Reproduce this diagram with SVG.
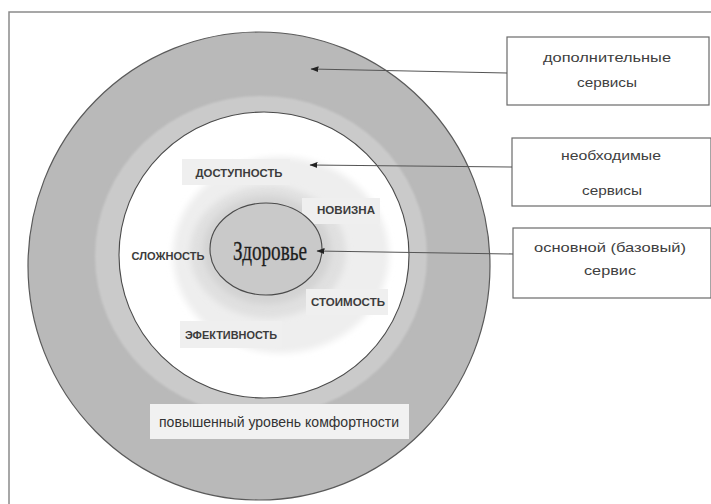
<svg xmlns="http://www.w3.org/2000/svg" width="711" height="504" viewBox="0 0 711 504">
  <style>
    .frame { fill: none; stroke: #8a8a8a; stroke-width: 1.5; }
    .ring-line { stroke: #4a4a4a; stroke-width: 1.1; }
    .factor-bg { fill: #efefef; }
    .factor { font-family: "Liberation Sans", Arial, sans-serif; font-size: 10px; font-weight: bold; fill: #3c3c3c; text-anchor: middle; }
    .box { fill: #ffffff; stroke: #6a6a6a; stroke-width: 1.2; }
    .box-text { font-family: "Liberation Sans", Arial, sans-serif; font-size: 13.5px; fill: #404040; text-anchor: middle; }
    .conn { fill: none; stroke: #555555; stroke-width: 1.1; marker-end: url(#arrow); }
  </style>
  <defs>
    <marker id="arrow" viewBox="0 0 8 6" refX="7.5" refY="3" markerWidth="8" markerHeight="6" markerUnits="userSpaceOnUse" orient="auto">
      <path d="M0,0 L8,3 L0,6 Z" fill="#222222"/>
    </marker>
    <filter id="soft" x="-10%" y="-10%" width="120%" height="120%">
      <feGaussianBlur stdDeviation="3"/>
    </filter>
    <filter id="edge" x="-5%" y="-5%" width="110%" height="110%">
      <feGaussianBlur stdDeviation="1.2"/>
    </filter>
  </defs>

  <rect width="711" height="504" fill="#ffffff"/>

  <!-- page frame (top and left edges) -->
  <path class="frame" d="M9,504 V12 H711"/>

  <!-- outer ring: additional services -->
  <g id="outer-ring">
    <ellipse cx="259" cy="266" rx="231" ry="234" fill="#b9b9b9" stroke="#5a5a5a" stroke-width="1.2"/>
    <ellipse cx="261" cy="256" rx="166" ry="160" fill="#cacaca" filter="url(#edge)"/>
  </g>

  <!-- inner ring: necessary services -->
  <g id="inner-ring">
    <ellipse class="ring-line" cx="264" cy="255" rx="145" ry="143" fill="#ffffff"/>
    <ellipse cx="281" cy="255" rx="108" ry="98" fill="#eeeeee" filter="url(#soft)"/>
    <ellipse cx="268" cy="252" rx="78" ry="66" fill="#e0e0e0" filter="url(#soft)"/>
    <ellipse cx="267" cy="250" rx="64" ry="54" fill="#d3d3d3" filter="url(#soft)"/>
  </g>

  <!-- factor labels -->
  <g id="factors">
    <rect class="factor-bg" x="182" y="159" width="108" height="26"/>
    <text class="factor" x="239" y="177" textLength="87" lengthAdjust="spacingAndGlyphs">ДОСТУПНОСТЬ</text>
    <rect class="factor-bg" x="302" y="198" width="78" height="26"/>
    <text class="factor" x="346" y="214" textLength="58" lengthAdjust="spacingAndGlyphs">НОВИЗНА</text>
    <text class="factor" x="168" y="260" textLength="73" lengthAdjust="spacingAndGlyphs">СЛОЖНОСТЬ</text>
    <rect class="factor-bg" x="306" y="289" width="82" height="26"/>
    <text class="factor" x="348" y="306" textLength="74" lengthAdjust="spacingAndGlyphs">СТОИМОСТЬ</text>
    <rect class="factor-bg" x="180" y="321" width="102" height="27"/>
    <text class="factor" x="231" y="339" textLength="92" lengthAdjust="spacingAndGlyphs">ЭФЕКТИВНОСТЬ</text>
  </g>

  <!-- core: basic service -->
  <g id="core">
    <ellipse class="ring-line" cx="266" cy="249" rx="56" ry="46" fill="#c9c9c9"/>
    <text x="270" y="260" font-family="'Liberation Serif', 'Times New Roman', serif" font-size="28" fill="#1e1e1e" stroke="#1e1e1e" stroke-width="0.3" text-anchor="middle" textLength="74" lengthAdjust="spacingAndGlyphs">Здоровье</text>
  </g>

  <!-- comfort label on the outer ring -->
  <g id="comfort">
    <rect x="150" y="404" width="259" height="35" fill="#f1f1f1"/>
    <text x="279" y="427" font-family="'Liberation Sans', Arial, sans-serif" font-size="14" fill="#333333" text-anchor="middle" textLength="240" lengthAdjust="spacingAndGlyphs">повышенный уровень комфортности</text>
  </g>

  <!-- legend boxes -->
  <g id="box-additional">
    <rect class="box" x="507" y="37" width="202" height="68"/>
    <text class="box-text" x="607" y="62" textLength="128" lengthAdjust="spacingAndGlyphs">дополнительные</text>
    <text class="box-text" x="607" y="87" textLength="60" lengthAdjust="spacingAndGlyphs">сервисы</text>
  </g>
  <g id="box-necessary">
    <rect class="box" x="512" y="138" width="199" height="68"/>
    <text class="box-text" x="611" y="160" textLength="100" lengthAdjust="spacingAndGlyphs">необходимые</text>
    <text class="box-text" x="612" y="195" textLength="60" lengthAdjust="spacingAndGlyphs">сервисы</text>
  </g>
  <g id="box-basic">
    <rect class="box" x="513" y="228" width="198" height="70"/>
    <text class="box-text" x="610" y="252" textLength="152" lengthAdjust="spacingAndGlyphs">основной (базовый)</text>
    <text class="box-text" x="610" y="275" textLength="52" lengthAdjust="spacingAndGlyphs">сервис</text>
  </g>

  <!-- connectors from boxes to the rings -->
  <g id="connectors">
    <path class="conn" d="M507,73 L311,69"/>
    <path class="conn" d="M512,167 L310,165"/>
    <path class="conn" d="M513,254 L317,251"/>
  </g>
</svg>
